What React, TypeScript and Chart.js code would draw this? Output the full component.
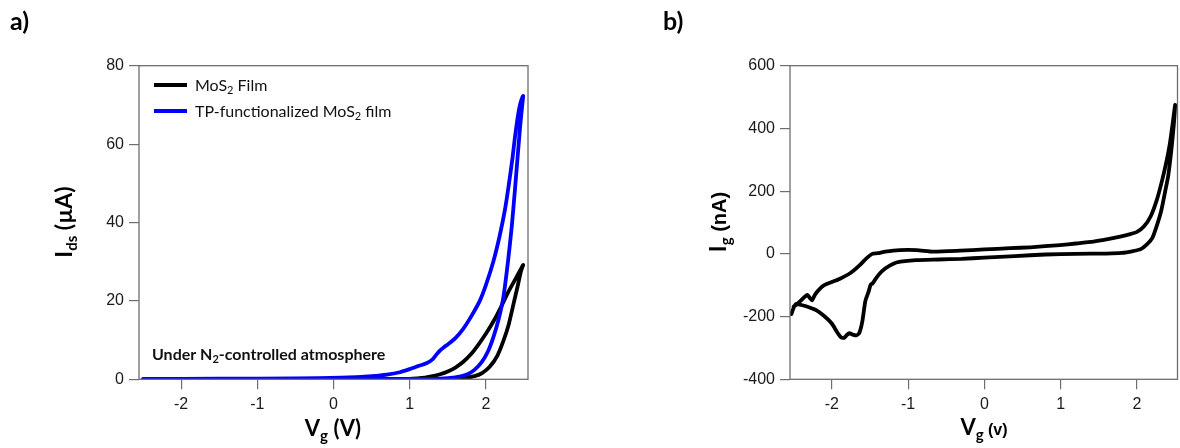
import React, { useEffect, useRef } from "react";
import { Chart, registerables } from "chart.js";

Chart.register(...registerables);

// ---------- Data ----------
const xTicks = [-2, -1, 0, 1, 2];
const yTicksA = [0, 20, 40, 60, 80];
const yTicksB = [-400, -200, 0, 200, 400, 600];

// Panel a: MoS2 film (black) transfer loop
const mos2Vg = [
  -2.5, -1.5, -0.5, 0.5, 1.2, 1.5, 1.7, 1.85, 1.95, 2.05, 2.15, 2.23, 2.3, 2.36, 2.42, 2.46, 2.49,
  2.47, 2.4, 2.3, 2.2, 2.1, 2.0, 1.9, 1.8, 1.7, 1.6, 1.5, 1.4, 1.3, 1.2, 1.1, 1.0, 0.5, 0, -1, -2.5,
];
const mos2Ids = [
  0, 0, 0, 0, 0.02, 0.08, 0.3, 0.8, 1.6, 3.2, 6, 9.8, 14, 19, 24, 27.5, 29.2,
  28.5, 26, 22.5, 18.5, 14.8, 11.6, 8.8, 6.3, 4.4, 3.0, 2.0, 1.3, 0.8, 0.45, 0.25, 0.12, 0.03, 0, 0, 0,
];

// Panel a: TP-functionalized MoS2 film (blue) transfer loop
const tpVg = [
  -2.5, -1.5, 0, 1.0, 1.4, 1.6, 1.75, 1.85, 1.95, 2.03, 2.1, 2.17, 2.23, 2.29, 2.34, 2.38, 2.42, 2.45, 2.475, 2.49,
  2.485, 2.47, 2.45, 2.43, 2.41, 2.38, 2.35, 2.3, 2.25, 2.18, 2.1, 2.0, 1.92, 1.8, 1.7, 1.6, 1.5, 1.45, 1.4, 1.35, 1.3, 1.22, 1.1, 1.0, 0.87, 0.7, 0.5, 0.3, 0.1, -0.5, -1.5, -2.5,
];
const tpIds = [
  0.1, 0.08, 0.08, 0.08, 0.15, 0.5, 1.2, 2.4, 4.5, 7.2, 10.8, 15.5, 21, 30, 39, 48, 57.5, 64.5, 69.5, 72.3,
  72.2, 71.5, 70.2, 68.3, 65.8, 61.5, 56.5, 49.5, 43.2, 36.5, 30.2, 24, 20, 15.8, 12.8, 10.5, 8.9, 8.2, 7.4, 6.3, 5.1, 4.1, 3.3, 2.6, 1.8, 1.2, 0.8, 0.55, 0.4, 0.2, 0.15, 0.1,
];

// Panel b: gate leakage current loop
const gateVg = [
  -2.53, -2.5, -2.47, -2.4, -2.3, -2.2, -2.1, -2.0, -1.93, -1.88, -1.84, -1.8, -1.77, -1.73, -1.68, -1.64, -1.6, -1.56, -1.52, -1.49, -1.47, -1.44, -1.38, -1.3, -1.2, -1.1, -0.9, -0.6, -0.3, 0, 0.4, 0.8, 1.2, 1.6, 1.8, 1.95, 2.05, 2.13, 2.2, 2.26, 2.32, 2.37, 2.41, 2.45, 2.48, 2.5,
  2.47, 2.43, 2.39, 2.33, 2.26, 2.18, 2.09, 2.0, 1.9, 1.78, 1.6, 1.43, 1.2, 0.99, 0.6, 0.34, 0, -0.32, -0.67, -0.89, -1.11, -1.3, -1.4, -1.47, -1.55, -1.63, -1.76, -1.9, -2.0, -2.1, -2.17, -2.22, -2.26, -2.29, -2.32, -2.36, -2.41, -2.47, -2.5,
];
const gateIg = [
  -192, -172, -160, -163, -170, -180, -198, -222, -250, -266, -268, -258, -253, -257, -260, -252, -215, -150, -122, -98, -95, -85, -65, -47, -32, -25, -20, -18, -16, -12, -7, -2, 0, 1, 3, 9, 15, 30, 50, 90, 140, 200, 250, 330, 405, 475,
  420, 350, 299, 235, 172, 120, 87, 70, 62, 55, 46, 39, 33, 28, 21, 18, 14, 10, 7, 12, 12, 7, 2, 0, -15, -35, -62, -80, -90, -100, -115, -130, -148, -140, -131, -138, -150, -163, -168,
];

// ---------- helpers ----------
type Part = { t: string; f: string; dy?: number };

function partsWidth(ctx: CanvasRenderingContext2D, parts: Part[]) {
  let w = 0;
  for (const p of parts) {
    ctx.font = p.f;
    w += ctx.measureText(p.t).width;
  }
  return w;
}

function drawParts(
  ctx: CanvasRenderingContext2D,
  parts: Part[],
  x: number,
  y: number,
  align: "left" | "center",
  color = "#000"
) {
  ctx.save();
  ctx.fillStyle = color;
  ctx.textAlign = "left";
  ctx.textBaseline = "alphabetic";
  const w = partsWidth(ctx, parts);
  let cx = align === "center" ? x - w / 2 : x;
  for (const p of parts) {
    ctx.font = p.f;
    ctx.fillText(p.t, cx, y + (p.dy || 0));
    cx += ctx.measureText(p.t).width;
  }
  ctx.restore();
}

function drawRotated(ctx: CanvasRenderingContext2D, parts: Part[], x: number, y: number) {
  ctx.save();
  ctx.translate(x, y);
  ctx.rotate(-Math.PI / 2);
  drawParts(ctx, parts, 0, 0, "center");
  ctx.restore();
}

function pts(xs: number[], ys: number[]) {
  return xs.map((x, i) => ({ x, y: ys[i] }));
}

const TICK_FONT = { family: "'Liberation Sans', Arial, sans-serif", size: 16 };
const TICK_COLOR = "#1a1a1a";
const AXIS_COLOR = "#6e6e6e";

function makeScales(
  xMin: number,
  xMax: number,
  yMin: number,
  yMax: number,
  yTicks: number[],
  yWidth: number,
  xHeight: number
) {
  return {
    x: {
      type: "linear" as const,
      min: xMin,
      max: xMax,
      afterBuildTicks: (s: any) => {
        s.ticks = xTicks.map((v) => ({ value: v }));
      },
      afterFit: (s: any) => {
        s.height = xHeight;
      },
      ticks: {
        font: TICK_FONT,
        color: TICK_COLOR,
        padding: 6,
        maxRotation: 0,
        autoSkip: false,
        callback: (v: any) => String(v),
      },
      grid: {
        drawOnChartArea: false,
        drawTicks: true,
        tickLength: 10,
        color: AXIS_COLOR,
        lineWidth: 1.2,
      },
      border: { display: false },
    },
    y: {
      type: "linear" as const,
      min: yMin,
      max: yMax,
      afterBuildTicks: (s: any) => {
        s.ticks = yTicks.map((v) => ({ value: v }));
      },
      afterFit: (s: any) => {
        s.width = yWidth;
      },
      ticks: {
        font: TICK_FONT,
        color: TICK_COLOR,
        padding: 5,
        autoSkip: false,
        callback: (v: any) => String(v),
      },
      grid: {
        drawOnChartArea: false,
        drawTicks: true,
        tickLength: 10,
        color: AXIS_COLOR,
        lineWidth: 1.2,
      },
      border: { display: false },
    },
  };
}

const boxPlugin = {
  id: "box",
  afterDatasetsDraw(chart: any) {
    const { ctx, chartArea } = chart;
    ctx.save();
    ctx.strokeStyle = AXIS_COLOR;
    ctx.lineWidth = 1.3;
    ctx.strokeRect(chartArea.left, chartArea.top, chartArea.right - chartArea.left, chartArea.bottom - chartArea.top);
    ctx.restore();
  },
};

const LATO_B = (s: number) => `bold ${s}px Lato, 'Open Sans', sans-serif`;
const LATO = (s: number) => `${s}px Lato, 'Open Sans', sans-serif`;
const ARIAL_B = (s: number) => `bold ${s}px 'Liberation Sans', Arial, sans-serif`;

const textA = {
  id: "textA",
  afterDraw(chart: any) {
    const ctx = chart.ctx as CanvasRenderingContext2D;
    drawParts(ctx, [{ t: "a)", f: LATO_B(25) }], 10, 30, "left");
    // x title
    drawParts(
      ctx,
      [
        { t: "V", f: LATO_B(22) },
        { t: "g", f: LATO_B(15), dy: 5 },
        { t: " (V)", f: LATO_B(22) },
      ],
      333,
      436,
      "center"
    );
    // y title
    drawRotated(
      ctx,
      [
        { t: "I", f: LATO_B(23) },
        { t: "ds", f: LATO_B(15), dy: 5 },
        { t: " (µA)", f: LATO_B(23) },
      ],
      72,
      222
    );
    // legend
    ctx.save();
    ctx.lineWidth = 4;
    ctx.strokeStyle = "#000";
    ctx.beginPath();
    ctx.moveTo(154, 85);
    ctx.lineTo(187, 85);
    ctx.stroke();
    ctx.strokeStyle = "#0000ff";
    ctx.beginPath();
    ctx.moveTo(154, 111);
    ctx.lineTo(187, 111);
    ctx.stroke();
    ctx.restore();
    drawParts(
      ctx,
      [
        { t: "MoS", f: LATO(16) },
        { t: "2", f: LATO(11), dy: 3 },
        { t: " Film", f: LATO(16) },
      ],
      195,
      91,
      "left",
      "#111"
    );
    drawParts(
      ctx,
      [
        { t: "TP-functionalized MoS", f: LATO(16) },
        { t: "2", f: LATO(11), dy: 3 },
        { t: " film", f: LATO(16) },
      ],
      195,
      117,
      "left",
      "#111"
    );
    // annotation
    drawParts(
      ctx,
      [
        { t: "Under N", f: LATO_B(16) },
        { t: "2", f: LATO_B(11), dy: 3 },
        { t: "-controlled atmosphere", f: LATO_B(16) },
      ],
      152,
      360,
      "left",
      "#111"
    );
  },
};

const OFFSET_B = 590;
const textB = {
  id: "textB",
  afterDraw(chart: any) {
    const ctx = chart.ctx as CanvasRenderingContext2D;
    drawParts(ctx, [{ t: "b)", f: LATO_B(25) }], 663 - OFFSET_B, 30, "left");
    drawParts(
      ctx,
      [
        { t: "V", f: LATO_B(22) },
        { t: "g", f: LATO_B(15), dy: 5 },
        { t: " (v)", f: ARIAL_B(16) },
      ],
      984 - OFFSET_B,
      435,
      "center"
    );
    drawRotated(
      ctx,
      [
        { t: "I", f: LATO_B(23) },
        { t: "g", f: LATO_B(15), dy: 5 },
        { t: " (nA)", f: ARIAL_B(20) },
      ],
      726 - OFFSET_B,
      222
    );
  },
};

function lineDs(label: string, data: any[], color: string) {
  return {
    label,
    data,
    showLine: true,
    borderColor: color,
    backgroundColor: color,
    borderWidth: 3.8,
    pointRadius: 0,
    tension: 0.2,
    borderJoinStyle: "round" as const,
    borderCapStyle: "round" as const,
    fill: false,
  };
}

function ChartA() {
  const ref = useRef<HTMLCanvasElement>(null);
  useEffect(() => {
    if (!ref.current) return;
    const chart = new Chart(ref.current, {
      type: "scatter",
      data: {
        datasets: [
          lineDs("TP-functionalized MoS₂ film", pts(tpVg, tpIds), "#0000ff"),
          lineDs("MoS₂ Film", pts(mos2Vg, mos2Ids), "#000000"),
        ],
      },
      options: {
        animation: false,
        responsive: false,
        maintainAspectRatio: false,
        layout: { padding: { top: 65.7, right: 32, left: 0, bottom: 0 } },
        plugins: { legend: { display: false }, tooltip: { enabled: false }, title: { display: false } },
        scales: makeScales(-2.553, 2.553, 0, 80, yTicksA, 139, 448 - 379.3) as any,
      },
      plugins: [boxPlugin, textA],
    });
    return () => chart.destroy();
  }, []);
  return (
    <canvas
      ref={ref}
      width={560}
      height={448}
      style={{ position: "absolute", left: 0, top: 0, width: 560, height: 448 }}
    />
  );
}

function ChartB() {
  const ref = useRef<HTMLCanvasElement>(null);
  useEffect(() => {
    if (!ref.current) return;
    const chart = new Chart(ref.current, {
      type: "scatter",
      data: {
        datasets: [lineDs("Ig", pts(gateVg, gateIg), "#000000")],
      },
      options: {
        animation: false,
        responsive: false,
        maintainAspectRatio: false,
        layout: { padding: { top: 65.7, right: 590 - 587.5, left: 0, bottom: 0 } },
        plugins: { legend: { display: false }, tooltip: { enabled: false }, title: { display: false } },
        scales: makeScales(-2.548, 2.531, -400, 600, yTicksB, 200, 448 - 379.3) as any,
      },
      plugins: [boxPlugin, textB],
    });
    return () => chart.destroy();
  }, []);
  return (
    <canvas
      ref={ref}
      width={590}
      height={448}
      style={{ position: "absolute", left: OFFSET_B, top: 0, width: 590, height: 448 }}
    />
  );
}

export default function App() {
  return (
    <div style={{ position: "absolute", left: 0, top: 0, width: 1180, height: 448, background: "#fff", overflow: "hidden" }}>
      <ChartA />
      <ChartB />
    </div>
  );
}
